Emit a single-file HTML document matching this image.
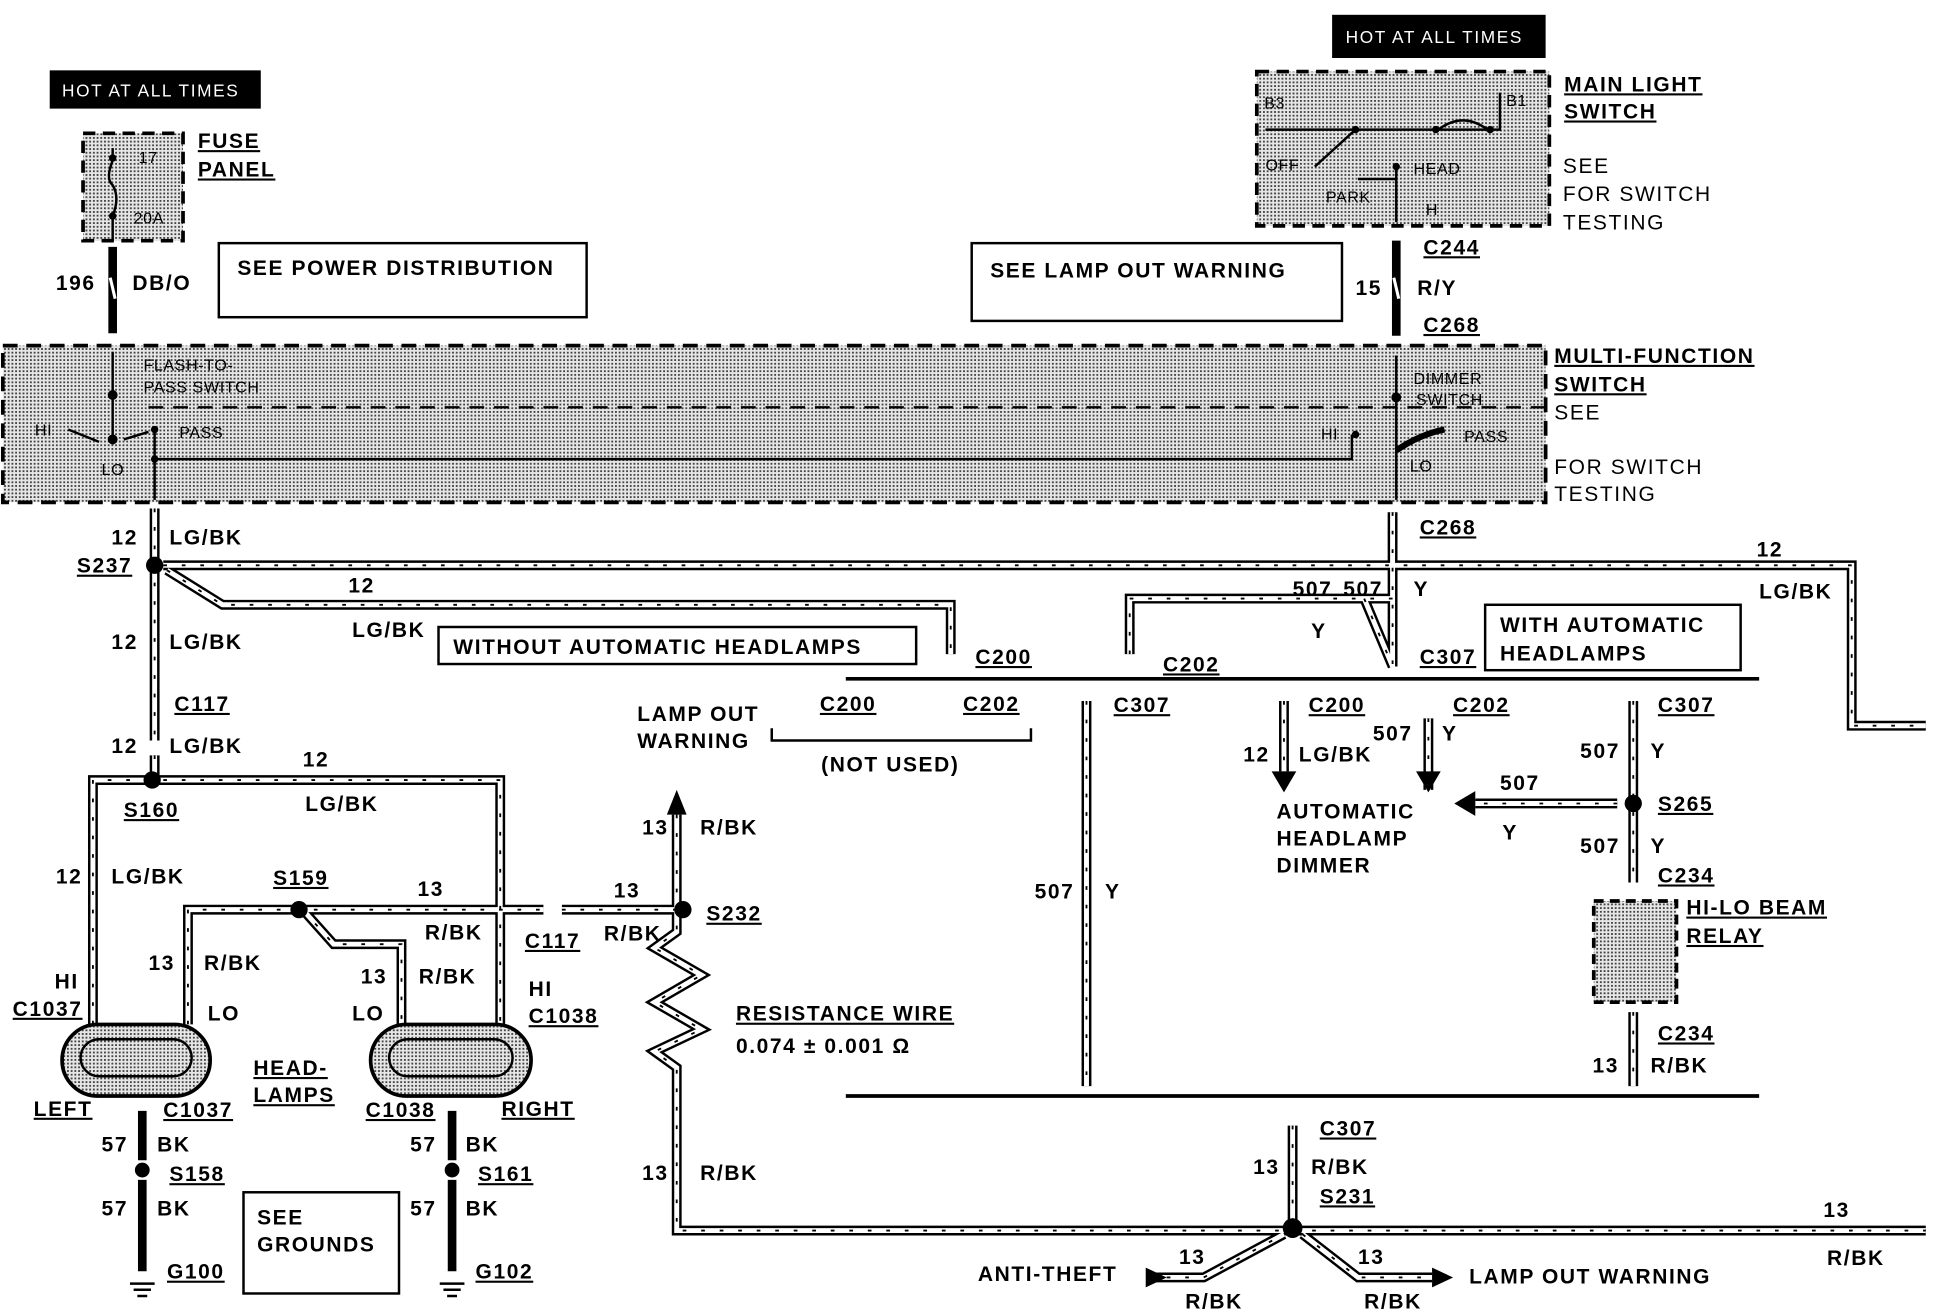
<!DOCTYPE html>
<html><head><meta charset="utf-8"><style>
html,body{margin:0;padding:0;background:#fff}
svg{display:block}
text{font-family:"Liberation Sans",sans-serif;font-weight:bold;font-size:17px;fill:#000;letter-spacing:1.3px}
.s{font-size:13px;font-weight:normal;letter-spacing:0.5px}
.u{text-decoration:underline}
</style></head><body>
<svg width="1936" height="1312" viewBox="0 0 1568 1063" xmlns="http://www.w3.org/2000/svg">
<defs>
<pattern id="dot" width="3" height="3" patternUnits="userSpaceOnUse"><rect width="3" height="3" fill="#e6e6e6"/><rect width="1.5" height="1.5" fill="#444"/></pattern>
<g id="wires" fill="none">
<path d="M125 412 V600 M125 612 V632"/>
<path d="M132 458 H1500 V588 H1560"/>
<path d="M135 462 L180 490 H770 V530"/>
<path d="M75 830 V632 H405 V830"/>
<path d="M152 830 V737 H440 M455 737 H548"/>
<path d="M245 737 L270 765 H325 V830"/>
<path d="M548 660 V755 L530 768 L568 790 L530 812 L568 834 L530 852 L548 865 V997 H1560"/>
<path d="M1128 415 V540 M1128 485 H915 V530 M1105 485 L1128 540"/>
<path d="M880 568 V880"/>
<path d="M1040 568 V625 M1157 582 V640"/>
<path d="M1323 568 V715 M1323 820 V880"/>
<path d="M1310 651 H1195"/>
<path d="M1047 912 V993"/>
<path d="M930 1035 H975 L1040 1000 M1055 1000 L1100 1035 H1160"/>
</g>
</defs>
<rect x="67" y="108" width="81" height="87" fill="url(#dot)" stroke="#000" stroke-width="3" stroke-dasharray="10 6"/>
<rect x="1018" y="58" width="237" height="125" fill="url(#dot)" stroke="#000" stroke-width="3" stroke-dasharray="10 6"/>
<rect x="2" y="280" width="1250" height="127" fill="url(#dot)" stroke="#000" stroke-width="3" stroke-dasharray="12 7"/>
<path d="M120 330 H1252" stroke="#000" stroke-width="2" stroke-dasharray="12 8"/>
<rect x="1291" y="730" width="67" height="82" fill="url(#dot)" stroke="#000" stroke-width="3" stroke-dasharray="8 5"/>
<g stroke="#000" stroke-width="2" fill="none">
<path d="M91 285 V360 M125 348 V405 M125 372 H1095 V352 M1131 288 V405 M1131 330 V360"/>
<path d="M55 348 L80 358 M100 356 L120 350"/>
<path d="M1131 365 Q1150 352 1170 348" stroke-width="5"/>
<path d="M91 120 V130 Q85 145 91 150 Q97 160 91 175 V195"/>
<path d="M1025 105 H1215 V75 M1098 105 L1065 135 M1165 105 Q1185 90 1205 105 M1100 145 H1131 M1131 135 V180"/>
</g>
<g fill="#000"><circle cx="91" cy="320" r="4"/><circle cx="91" cy="356" r="4"/><circle cx="125" cy="348" r="3"/><circle cx="125" cy="372" r="3"/><circle cx="1131" cy="322" r="4"/><circle cx="1098" cy="352" r="3"/><circle cx="91" cy="128" r="3"/><circle cx="91" cy="175" r="3"/><circle cx="1098" cy="105" r="3"/><circle cx="1163" cy="105" r="3"/><circle cx="1207" cy="105" r="3"/><circle cx="1131" cy="135" r="3"/></g>
<use href="#wires" stroke="#000" stroke-width="8"/>
<use href="#wires" stroke="#fff" stroke-width="4"/>
<use href="#wires" stroke="#000" stroke-width="1.5" stroke-dasharray="3 12"/>
<g stroke="#000" stroke-width="7"><path d="M91 200 V270 M1131 195 V272 M115 900 V940 M115 956 V1030 M366 900 V940 M366 956 V1030"/></g>
<g stroke="#fff" stroke-width="2.5"><path d="M89 225 L93 242 M1129 225 L1133 242"/></g>
<path d="M685 550 H1425 M685 888 H1425" stroke="#000" stroke-width="3"/>
<path d="M625 590 V600 H835 V590" stroke="#000" stroke-width="2" fill="none"/>
<g fill="#000"><path d="M540 660 L548 640 L556 660Z"/><path d="M1030 625 L1040 642 L1050 625Z"/><path d="M1147 625 L1157 642 L1167 625Z"/><path d="M1195 641 L1178 651 L1195 661Z"/><path d="M928 1027 L945 1035 L928 1043Z"/><path d="M1160 1027 L1177 1035 L1160 1043Z"/></g>
<g fill="#000"><circle cx="125" cy="458" r="7"/><circle cx="123" cy="632" r="7"/><circle cx="242" cy="737" r="7"/><circle cx="553" cy="737" r="7"/><circle cx="1323" cy="651" r="7"/><circle cx="1047" cy="995" r="8"/><circle cx="115" cy="948" r="6"/><circle cx="366" cy="948" r="6"/></g>
<g stroke="#000" stroke-width="2"><path d="M105 1040 H125 M108 1045 H122 M111 1050 H119 M356 1040 H376 M359 1045 H373 M362 1050 H370"/></g>
<rect x="50" y="830" width="120" height="58" rx="29" fill="url(#dot)" stroke="#000" stroke-width="3"/>
<rect x="300" y="830" width="130" height="58" rx="29" fill="url(#dot)" stroke="#000" stroke-width="3"/>
<g fill="none" stroke="#000" stroke-width="2"><rect x="65" y="842" width="90" height="30" rx="15"/><rect x="315" y="842" width="100" height="30" rx="15"/></g>
<rect x="40" y="57" width="171" height="31" fill="#000"/><text x="50" y="78" style="fill:#fff;font-weight:normal;font-size:14px">HOT AT ALL TIMES</text>
<rect x="1079" y="12" width="173" height="35" fill="#000"/><text x="1090" y="35" style="fill:#fff;font-weight:normal;font-size:14px">HOT AT ALL TIMES</text>
<g fill="#fff" stroke="#000" stroke-width="2"><rect x="177" y="197" width="298" height="60"/><rect x="787" y="197" width="300" height="63"/><rect x="355" y="508" width="387" height="30"/><rect x="1203" y="490" width="207" height="53"/><rect x="197" y="966" width="126" height="82"/></g>
<g>
<text x="192" y="223">SEE POWER DISTRIBUTION</text>
<text x="802" y="225">SEE LAMP OUT WARNING</text>
<text x="367" y="530">WITHOUT AUTOMATIC HEADLAMPS</text>
<text x="1215" y="512">WITH AUTOMATIC</text><text x="1215" y="535">HEADLAMPS</text>
<text x="208" y="992">SEE</text><text x="208" y="1014">GROUNDS</text>
<text x="160" y="120" class="u">FUSE</text><text x="160" y="143" class="u">PANEL</text>
<text x="1267" y="74" class="u">MAIN LIGHT</text><text x="1267" y="96" class="u">SWITCH</text>
<text x="1266" y="140" style="font-weight:normal">SEE</text><text x="1266" y="163" style="font-weight:normal">FOR SWITCH</text><text x="1266" y="186" style="font-weight:normal">TESTING</text>
<text x="1259" y="294" class="u">MULTI-FUNCTION</text><text x="1259" y="317" class="u">SWITCH</text><text x="1259" y="340" style="font-weight:normal">SEE</text>
<text x="1259" y="384" style="font-weight:normal">FOR SWITCH</text><text x="1259" y="406" style="font-weight:normal">TESTING</text>
<text x="45" y="235">196</text><text x="107" y="235">DB/O</text>
<text x="1153" y="206" class="u">C244</text><text x="1098" y="239">15</text><text x="1148" y="239">R/Y</text><text x="1153" y="269" class="u">C268</text>
<text x="116" y="300" class="s">FLASH-TO-</text><text x="116" y="318" class="s">PASS SWITCH</text>
<text x="28" y="353" class="s">HI</text><text x="145" y="355" class="s">PASS</text><text x="82" y="385" class="s">LO</text>
<text x="1145" y="311" class="s">DIMMER</text><text x="1147" y="328" class="s">SWITCH</text><text x="1070" y="356" class="s">HI</text><text x="1186" y="358" class="s">PASS</text><text x="1142" y="382" class="s">LO</text>
<text x="1024" y="88" class="s">B3</text><text x="1220" y="86" class="s">B1</text><text x="1025" y="138" class="s">OFF</text><text x="1145" y="141" class="s">HEAD</text><text x="1074" y="164" class="s">PARK</text><text x="1155" y="174" class="s">H</text>
<text x="112" y="132" class="s">17</text><text x="108" y="181" class="s">20A</text>
<text x="90" y="441">12</text><text x="137" y="441">LG/BK</text>
<text x="62" y="464" class="u">S237</text>
<text x="282" y="480">12</text><text x="285" y="516">LG/BK</text>
<text x="90" y="526">12</text><text x="137" y="526">LG/BK</text>
<text x="141" y="576" class="u">C117</text>
<text x="90" y="610">12</text><text x="137" y="610">LG/BK</text>
<text x="245" y="621">12</text><text x="247" y="657">LG/BK</text>
<text x="100" y="662" class="u">S160</text>
<text x="45" y="716">12</text><text x="90" y="716">LG/BK</text>
<text x="221" y="717" class="u">S159</text><text x="338" y="726">13</text><text x="344" y="761">R/BK</text>
<text x="120" y="786">13</text><text x="165" y="786">R/BK</text>
<text x="292" y="797">13</text><text x="339" y="797">R/BK</text>
<text x="425" y="768" class="u">C117</text>
<text x="497" y="727">13</text><text x="489" y="762">R/BK</text><text x="572" y="746" class="u">S232</text>
<text x="520" y="676">13</text><text x="567" y="676">R/BK</text>
<text x="44" y="801">HI</text><text x="10" y="823" class="u">C1037</text><text x="168" y="827">LO</text>
<text x="285" y="827">LO</text><text x="428" y="807">HI</text><text x="428" y="829" class="u">C1038</text>
<text x="205" y="871" class="u">HEAD-</text><text x="205" y="893" class="u">LAMPS</text>
<text x="27" y="904" class="u">LEFT</text><text x="132" y="905" class="u">C1037</text>
<text x="296" y="905" class="u">C1038</text><text x="406" y="904" class="u">RIGHT</text>
<text x="82" y="933">57</text><text x="127" y="933">BK</text><text x="137" y="957" class="u">S158</text>
<text x="82" y="985">57</text><text x="127" y="985">BK</text><text x="135" y="1036" class="u">G100</text>
<text x="332" y="933">57</text><text x="377" y="933">BK</text><text x="387" y="957" class="u">S161</text>
<text x="332" y="985">57</text><text x="377" y="985">BK</text><text x="385" y="1036" class="u">G102</text>
<text x="596" y="827" class="u">RESISTANCE WIRE</text><text x="596" y="853">0.074 ± 0.001 Ω</text>
<text x="520" y="956">13</text><text x="567" y="956">R/BK</text>
<text x="516" y="584">LAMP OUT</text><text x="516" y="606">WARNING</text>
<text x="664" y="576" class="u">C200</text><text x="780" y="576" class="u">C202</text>
<text x="665" y="625">(NOT USED)</text>
<text x="790" y="538" class="u">C200</text><text x="942" y="544" class="u">C202</text>
<text x="1047" y="483">507</text><text x="1088" y="483">507</text><text x="1145" y="483">Y</text><text x="1062" y="517">Y</text>
<text x="1150" y="433" class="u">C268</text><text x="1150" y="538" class="u">C307</text>
<text x="1423" y="451">12</text><text x="1425" y="485">LG/BK</text>
<text x="902" y="577" class="u">C307</text><text x="838" y="728">507</text><text x="895" y="728">Y</text>
<text x="1060" y="577" class="u">C200</text><text x="1007" y="617">12</text><text x="1052" y="617">LG/BK</text>
<text x="1177" y="577" class="u">C202</text><text x="1112" y="600">507</text><text x="1168" y="600">Y</text>
<text x="1343" y="577" class="u">C307</text><text x="1280" y="614">507</text><text x="1337" y="614">Y</text>
<text x="1215" y="640">507</text><text x="1217" y="680">Y</text>
<text x="1343" y="657" class="u">S265</text><text x="1280" y="691">507</text><text x="1337" y="691">Y</text>
<text x="1343" y="715" class="u">C234</text>
<text x="1366" y="741" class="u">HI-LO BEAM</text><text x="1366" y="764" class="u">RELAY</text>
<text x="1034" y="663">AUTOMATIC</text><text x="1034" y="685">HEADLAMP</text><text x="1034" y="707">DIMMER</text>
<text x="1343" y="843" class="u">C234</text><text x="1290" y="869">13</text><text x="1337" y="869">R/BK</text>
<text x="1069" y="920" class="u">C307</text><text x="1015" y="951">13</text><text x="1062" y="951">R/BK</text><text x="1069" y="975" class="u">S231</text>
<text x="1477" y="986">13</text><text x="1480" y="1025">R/BK</text>
<text x="792" y="1038">ANTI-THEFT</text><text x="955" y="1024">13</text><text x="960" y="1060">R/BK</text>
<text x="1100" y="1024">13</text><text x="1105" y="1060">R/BK</text><text x="1190" y="1040">LAMP OUT WARNING</text>
</g>
</svg>
</body></html>
